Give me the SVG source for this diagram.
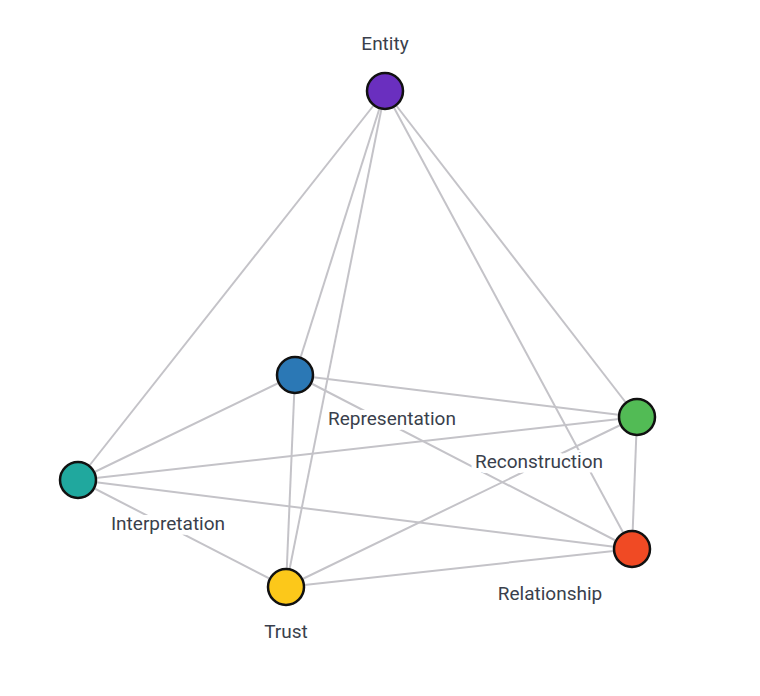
<svg xmlns="http://www.w3.org/2000/svg" width="760" height="696" viewBox="0 0 760 696">
<style>
.e{stroke:#c4c3c8;stroke-width:2;fill:none}
.n{stroke:#111;stroke-width:2.5}
.t{font-family:Roboto,"Open Sans",sans-serif;font-size:19px;fill:#3a3f4c;stroke:#fff;stroke-width:10;stroke-linejoin:round;paint-order:stroke}
</style>
<rect width="760" height="696" fill="#fff"/>
<g id="connectors">
<line class="e" x1="385" y1="91" x2="78" y2="480"/>
<line class="e" x1="385" y1="91" x2="295" y2="375"/>
<line class="e" x1="385" y1="91" x2="286" y2="587"/>
<line class="e" x1="385" y1="91" x2="637" y2="417"/>
<line class="e" x1="385" y1="91" x2="632" y2="549"/>
<line class="e" x1="295" y1="375" x2="637" y2="417"/>
<line class="e" x1="295" y1="375" x2="78" y2="480"/>
<line class="e" x1="295" y1="375" x2="286" y2="587"/>
<line class="e" x1="295" y1="375" x2="632" y2="549"/>
<line class="e" x1="78" y1="480" x2="637" y2="417"/>
<line class="e" x1="78" y1="480" x2="632" y2="549"/>
<line class="e" x1="78" y1="480" x2="286" y2="587"/>
<line class="e" x1="286" y1="587" x2="637" y2="417"/>
<line class="e" x1="286" y1="587" x2="632" y2="549"/>
<line class="e" x1="637" y1="417" x2="632" y2="549"/>
</g>
<g id="entity"><circle class="n" cx="385" cy="91" r="18" fill="#6a2fbf"/><text class="t" x="385" y="50" text-anchor="middle">Entity</text></g>
<g id="representation"><circle class="n" cx="295" cy="375" r="18" fill="#2b78b5"/><text class="t" x="392" y="425" text-anchor="middle">Representation</text></g>
<g id="reconstruction"><circle class="n" cx="637" cy="417" r="18" fill="#52bb55"/><text class="t" x="539" y="468" text-anchor="middle">Reconstruction</text></g>
<g id="interpretation"><circle class="n" cx="78" cy="480" r="18" fill="#20a89e"/><text class="t" x="168" y="530" text-anchor="middle">Interpretation</text></g>
<g id="trust"><circle class="n" cx="286" cy="587" r="18" fill="#fcc81a"/><text class="t" x="286" y="638" text-anchor="middle">Trust</text></g>
<g id="relationship"><circle class="n" cx="632" cy="549" r="18" fill="#f04a24"/><text class="t" x="550" y="600" text-anchor="middle">Relationship</text></g>
</svg>
